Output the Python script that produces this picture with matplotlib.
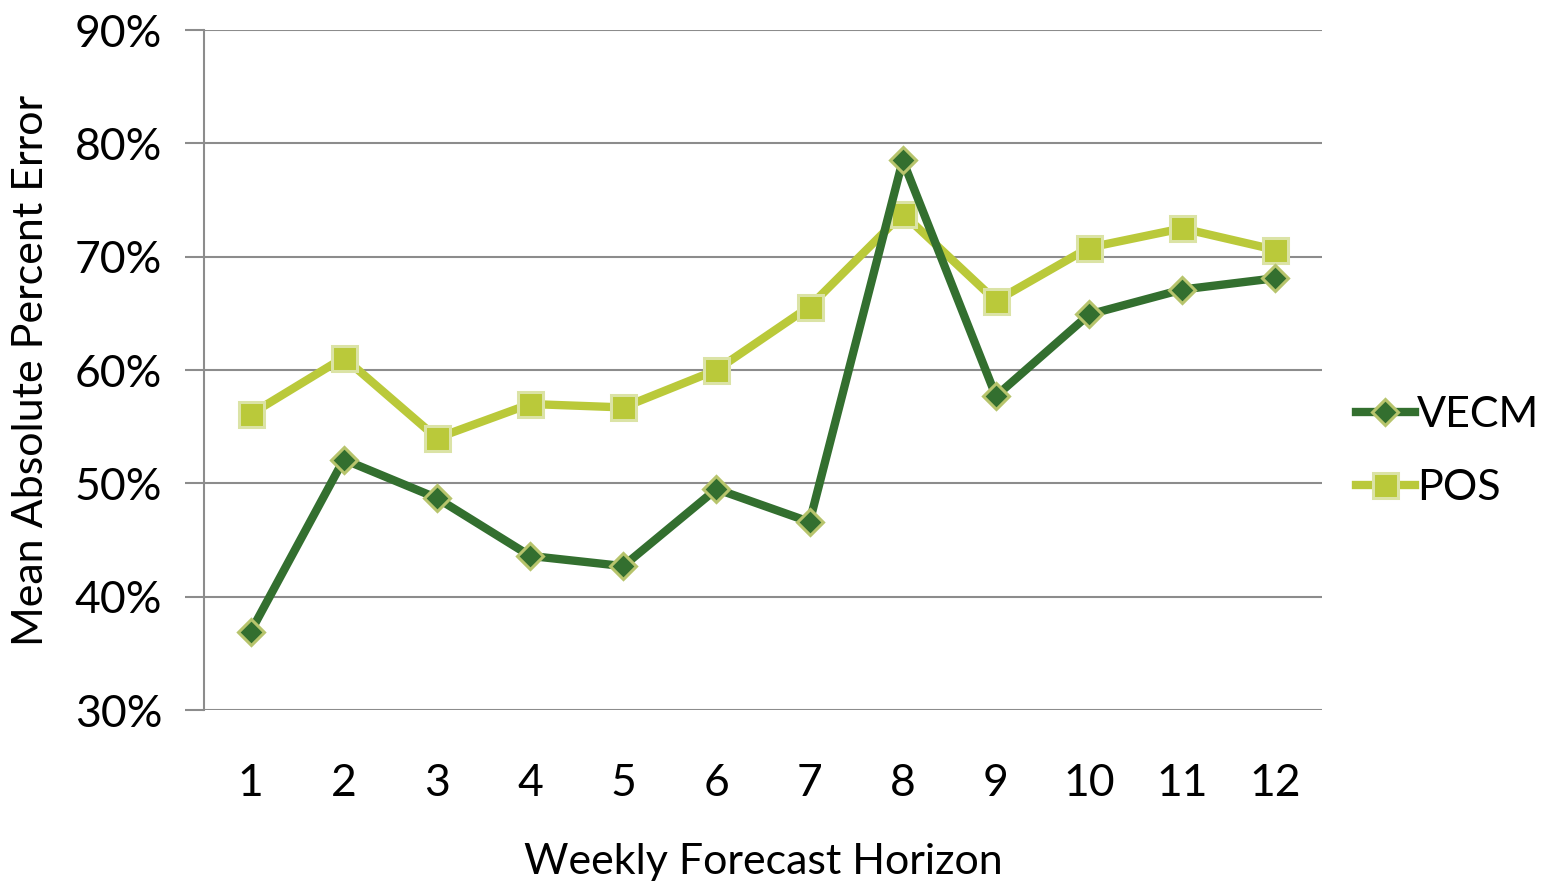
import matplotlib.pyplot as plt
from matplotlib.ticker import FuncFormatter

plt.rcParams['font.family'] = ['Lato', 'DejaVu Sans']

horizons = ["1", "2", "3", "4", "5", "6", "7", "8", "9", "10", "11", "12"]
vecm = [36.9, 52.1, 48.7, 43.6, 42.7, 49.5, 46.6, 78.5, 57.7, 64.9, 67.1, 68.1]
pos = [56.1, 61.1, 54.0, 57.0, 56.7, 60.0, 65.6, 73.8, 66.1, 70.8, 72.5, 70.6]
yticks = [30, 40, 50, 60, 70, 80, 90]

fig = plt.figure(figsize=(15.54, 8.85), dpi=100)
ax = fig.add_axes([0.1313, 0.1977, 0.7194, 0.7684])

x = range(1, len(horizons) + 1)
ax.plot(x, vecm, color="#336f2f", lw=6, marker="D", ms=13,
        mfc="#336f2f", mec="#b7c46c", mew=2.2, label="VECM", zorder=3)
ax.plot(x, pos, color="#bac93a", lw=6, marker="s", ms=18,
        mfc="#bac93a", mec="#dbe3a6", mew=2.2, label="POS", zorder=2)

ax.set_xlim(0.5, 12.5)
ax.set_ylim(30, 90)
ax.set_yticks(yticks)
ax.yaxis.set_major_formatter(FuncFormatter(lambda v, p: f"{v:.0f}%"))
ax.set_xticks(list(x))
ax.set_xticklabels(horizons)
ax.grid(axis="y", color="#8c8c8c", lw=1.5)
ax.set_axisbelow(True)
for s in ["top", "right", "bottom"]:
    ax.spines[s].set_visible(False)
ax.spines["left"].set_color("#8c8c8c")
ax.spines["left"].set_linewidth(1.5)
ax.tick_params(axis="y", length=14, width=1.5, color="#8c8c8c",
               labelsize=32, pad=16)
ax.tick_params(axis="x", length=0, labelsize=32, pad=38)

ax.set_xlabel("Weekly Forecast Horizon", fontsize=31, labelpad=28)
ax.set_ylabel("Mean Absolute Percent Error", fontsize=31, labelpad=18)

ax.legend(loc="center left", bbox_to_anchor=(1.0, 0.38), frameon=False,
          fontsize=31, handlelength=1.35, handletextpad=0.05,
          labelspacing=0.83, borderaxespad=0.4)

fig.savefig("out.png", dpi=100)
